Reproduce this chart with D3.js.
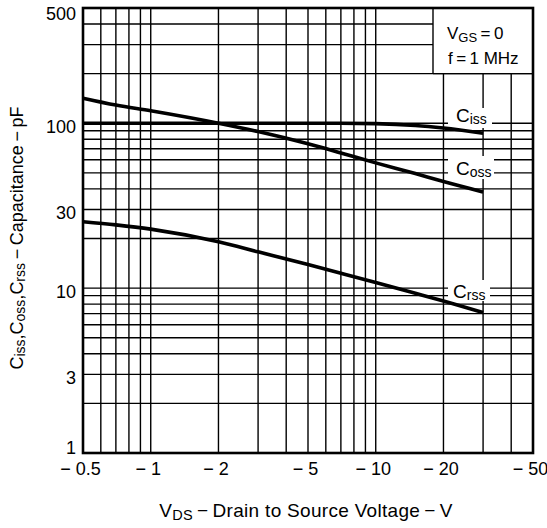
<!DOCTYPE html>
<html>
<head>
<meta charset="utf-8">
<script src="https://cdn.jsdelivr.net/npm/d3@7/dist/d3.min.js"></script>
<style>
  html, body { margin: 0; padding: 0; background: #fff; }
  svg { display: block; }
  text { font-family: "Liberation Sans", Arial, Helvetica, sans-serif; fill: #000; }
</style>
</head>
<body>
<svg id="chart" width="547" height="528"></svg>
<script>
// ---- data ----
const voltages = [-0.5, -0.7, -1, -2, -3, -5, -7, -10, -15, -20, -30];
const ciss = [100, 100, 100, 100, 100, 100, 100, 99.5, 97, 93.5, 87];
const coss = [142, 129, 119, 100, 89, 75, 66, 57.5, 49.5, 44.3, 38.3];
const crss = [25.3, 24.2, 22.8, 19.1, 16.6, 13.9, 12.3, 10.8, 9.3, 8.35, 7.1];

const xTickValues = [-0.5, -1, -2, -5, -10, -20, -50];
const xTickLabels = ["\u2212 0.5", "\u2212 1", "\u2212 2", "\u2212 5", "\u2212 10", "\u2212 20", "\u2212 50"];
const yTickValues = [1, 3, 10, 30, 100, 500];
const yTickLabels = ["1", "3", "10", "30", "100", "500"];

const xGridValues = [-0.5, -0.6, -0.7, -0.8, -0.9, -1, -2, -3, -4, -5, -6, -7, -8, -9, -10, -20, -30, -40, -50];
const yGridValues = [1, 2, 3, 4, 5, 6, 7, 8, 9, 10, 20, 30, 40, 50, 60, 70, 80, 90, 100, 200, 300, 400, 500];

const seriesNames = ["iss", "oss", "rss"];

// ---- layout ----
const L = 83, R = 533, T = 8, B = 453;
const svg = d3.select("#chart");

const x = d3.scaleLog().domain([-0.5, -50]).range([L, R]);
const y = d3.scaleLog().domain([1, 500]).range([B, T]);

// grid
const grid = svg.append("g").attr("stroke", "#000").attr("stroke-width", 1.4);
grid.selectAll("line.v").data(xGridValues).join("line")
  .attr("class", "v")
  .attr("x1", d => x(d)).attr("x2", d => x(d))
  .attr("y1", T).attr("y2", B);
grid.selectAll("line.h").data(yGridValues).join("line")
  .attr("class", "h")
  .attr("x1", L).attr("x2", R)
  .attr("y1", d => y(d)).attr("y2", d => y(d));

// condition box covering grid
const legX = 433, legBottom = y(200);
svg.append("rect").attr("x", legX).attr("y", T).attr("width", R - legX).attr("height", legBottom - T)
  .attr("fill", "#fff");
svg.append("line").attr("x1", legX).attr("x2", legX).attr("y1", T).attr("y2", legBottom)
  .attr("stroke", "#000").attr("stroke-width", 1.4);
svg.append("line").attr("x1", legX).attr("x2", R).attr("y1", legBottom).attr("y2", legBottom)
  .attr("stroke", "#000").attr("stroke-width", 1.4);

const t1 = svg.append("text").attr("x", 447).attr("y", 39).attr("font-size", 17);
t1.append("tspan").text("V");
t1.append("tspan").attr("font-size", 13).attr("dy", 3).text("GS");
t1.append("tspan").attr("dy", -3).text("\u2009=\u20090");
svg.append("text").attr("x", 448).attr("y", 64).attr("font-size", 17).text("f\u2009=\u20091 MHz");

// label white boxes (cover grid)
const labelBoxes = [
  {x: 448, y: 108, w: 44, h: 20},
  {x: 448, y: 156, w: 46, h: 23},
  {x: 448, y: 280, w: 42, h: 21}
];
svg.selectAll("rect.lb").data(labelBoxes).join("rect")
  .attr("class", "lb")
  .attr("x", d => d.x).attr("y", d => d.y).attr("width", d => d.w).attr("height", d => d.h)
  .attr("fill", "#fff");

// curves
const line = d3.line()
  .x(d => x(d[0])).y(d => y(d[1]))
  .curve(d3.curveMonotoneX);
[ciss, coss, crss].forEach(vals => {
  svg.append("path")
    .datum(voltages.map((v, i) => [v, vals[i]]))
    .attr("d", line)
    .attr("fill", "none")
    .attr("stroke", "#000")
    .attr("stroke-width", 3.6)
    .attr("stroke-linejoin", "round");
});

// curve labels
const labelPos = [[456, 122], [456, 175], [453, 298]];
seriesNames.forEach((s, i) => {
  const t = svg.append("text").attr("x", labelPos[i][0]).attr("y", labelPos[i][1]).attr("font-size", 19);
  t.append("tspan").text("C");
  t.append("tspan").attr("font-size", 14).attr("dy", 1.5).text(s);
});

// frame
svg.append("rect").attr("x", L).attr("y", T).attr("width", R - L).attr("height", B - T)
  .attr("fill", "none").attr("stroke", "#000").attr("stroke-width", 2.6);

// axes (labels only)
const xAxis = svg.append("g").attr("transform", `translate(0,${B})`)
  .call(d3.axisBottom(x).tickValues(xTickValues)
    .tickFormat((d, i) => xTickLabels[i]).tickSize(0).tickPadding(9));
xAxis.select(".domain").remove();
xAxis.attr("font-family", null);
xAxis.selectAll("text").attr("font-size", 18).attr("dx", -3).style("white-space", "pre");

const yAxis = svg.append("g").attr("transform", `translate(${L},0)`)
  .call(d3.axisLeft(y).tickValues(yTickValues)
    .tickFormat((d, i) => yTickLabels[i]).tickSize(0).tickPadding(7));
yAxis.select(".domain").remove();
yAxis.attr("font-family", null);
yAxis.selectAll("text").attr("font-size", 18)
  .attr("dy", d => d === 500 ? "0.62em" : d === 1 ? "0.02em" : "0.5em");

// axis titles
const xt = svg.append("text").attr("x", 306).attr("y", 517).attr("text-anchor", "middle")
  .attr("font-size", 19).attr("letter-spacing", 0.3);
xt.append("tspan").text("V");
xt.append("tspan").attr("font-size", 14.5).attr("dy", 3).text("DS");
xt.append("tspan").attr("dy", -3).text("\u2009\u2212\u2009Drain to Source Voltage\u2009\u2212\u2009V");

const yt = svg.append("text").attr("transform", "translate(23,238) rotate(-90)")
  .attr("text-anchor", "middle").attr("font-size", 18);
seriesNames.forEach((s, i) => {
  yt.append("tspan").attr("dy", i === 0 ? 0 : -2).text(i === 0 ? "C" : ",C");
  yt.append("tspan").attr("font-size", 14).attr("dy", 2).text(s);
});
yt.append("tspan").attr("dy", -2).text("\u2009\u2212\u2009Capacitance\u2009\u2212\u2009pF");
</script>
</body>
</html>
